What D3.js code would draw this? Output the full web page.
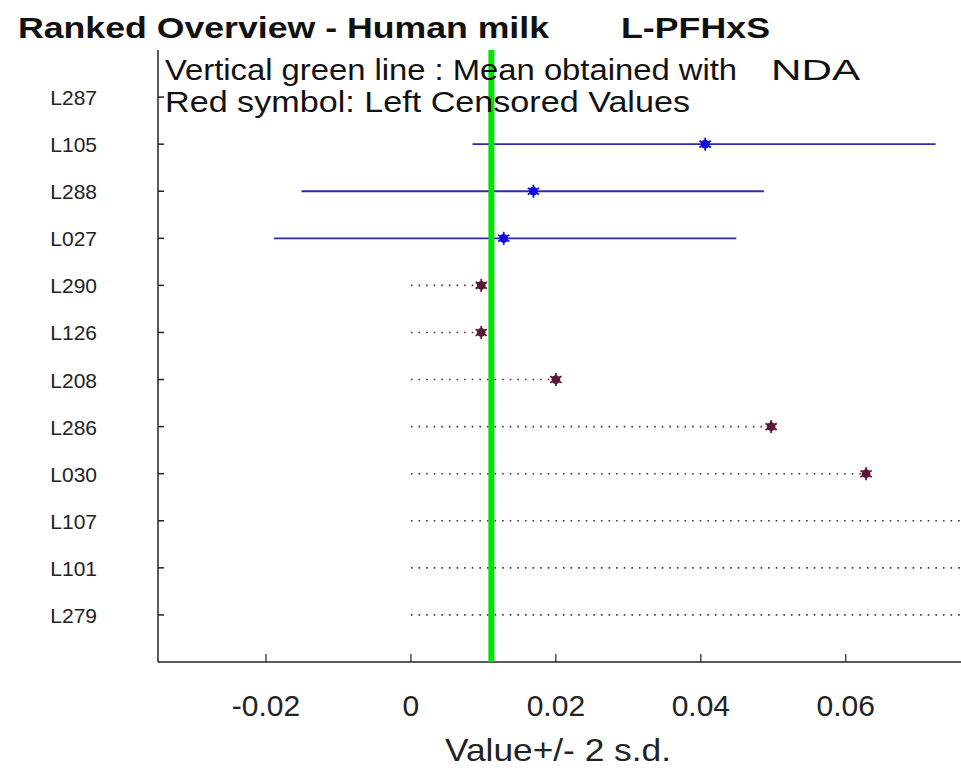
<!DOCTYPE html>
<html><head><meta charset="utf-8">
<script src="https://cdn.jsdelivr.net/npm/d3@7"></script>
<style>body{margin:0;background:#fff}svg{display:block}text{font-family:"Liberation Sans",Arial,sans-serif}</style>
</head><body>
<svg id="c" width="961" height="771"></svg>
<script>
const labs = ["L287","L105","L288","L027","L290","L126","L208","L286","L030","L107","L101","L279"];
// measured values (null = none shown)
const values = [null,0.0406,0.0169,0.0128,0.0097,0.0097,0.0200,0.0497,0.0628,0.090,0.100,0.120];
const lows   = [null,0.0085,-0.0151,-0.0189,null,null,null,null,null,null,null,null];
const highs  = [null,0.0724,0.0487,0.0449,null,null,null,null,null,null,null,null];
const censored = [false,false,false,false,true,true,true,true,true,true,true,true];
const meanNDA = 0.0111;
const xTicks = [-0.02,0,0.02,0.04,0.06];
const xTickLabels = ["-0.02","0","0.02","0.04","0.06"];

const svg = d3.select("#c");
const L=158, R=961, T=50, B=662;
const x = d3.scaleLinear().domain([-0.0349,0.0759]).range([L,R]);
const y = d3.scaleLinear().domain([0,13]).range([T,B]);

svg.append("defs").append("clipPath").attr("id","clp").append("rect")
  .attr("x",L).attr("y",T-10).attr("width",R-L).attr("height",B-T+10);
const g = svg.append("g").attr("clip-path","url(#clp)");

// axes
svg.append("line").attr("x1",L).attr("x2",L).attr("y1",T).attr("y2",B).attr("stroke","#222").attr("stroke-width",1.5);
svg.append("line").attr("x1",L).attr("x2",R).attr("y1",B).attr("y2",B).attr("stroke","#222").attr("stroke-width",1.5);
xTicks.forEach((t,i)=>{
  svg.append("line").attr("x1",x(t)).attr("x2",x(t)).attr("y1",B).attr("y2",B-8).attr("stroke","#222").attr("stroke-width",1.2);
  svg.append("text").attr("x",x(t)).attr("y",716).attr("text-anchor","middle").attr("font-size",30).attr("fill","#222").text(xTickLabels[i]);
});
labs.forEach((l,i)=>{
  const yy=y(i+1);
  svg.append("line").attr("x1",L).attr("x2",L+6).attr("y1",yy).attr("y2",yy).attr("stroke","#222").attr("stroke-width",1.5);
  svg.append("text").attr("x",97).attr("y",yy+8).attr("text-anchor","end").attr("font-size",21).attr("fill","#222").text(l);
});

// data marks
labs.forEach((l,i)=>{
  const yy=y(i+1);
  if(values[i]===null) return;
  if(!censored[i]){
    g.append("line").attr("x1",x(lows[i])).attr("x2",x(highs[i])).attr("y1",yy).attr("y2",yy).attr("stroke","#2a2ab0").attr("stroke-width",1.8);
  } else {
    g.append("line").attr("x1",x(0)).attr("x2",x(values[i])).attr("y1",yy).attr("y2",yy).attr("stroke","#5a2a3a").attr("stroke-width",1.6).attr("stroke-dasharray","1.6,6");
  }
});

// green mean line
svg.append("line").attr("x1",x(meanNDA)).attr("x2",x(meanNDA)).attr("y1",T).attr("y2",B).attr("stroke","#00e600").attr("stroke-width",6);

labs.forEach((l,i)=>{
  if(values[i]===null) return;
  const yy=y(i+1), col = censored[i] ? "#5c1838" : "#1010e0";
  const m = g.append("g").attr("transform",`translate(${x(values[i])},${yy})`);
  m.append("path").attr("d",d3.symbol(d3.symbolCircle,60)()).attr("fill",col);
  [0,60,120].forEach(a=>m.append("line").attr("x1",0).attr("y1",-6.5).attr("x2",0).attr("y2",6.5).attr("transform",`rotate(${a})`).attr("stroke",col).attr("stroke-width",1.8));
});

// titles
svg.append("text").attr("x",18).attr("y",38).attr("font-size",30).attr("font-weight","bold").attr("fill","#111")
  .attr("textLength",531).attr("lengthAdjust","spacingAndGlyphs").text("Ranked Overview - Human milk");
svg.append("text").attr("x",621).attr("y",38).attr("font-size",30).attr("font-weight","bold").attr("fill","#111")
  .attr("textLength",149).attr("lengthAdjust","spacingAndGlyphs").text("L-PFHxS");
svg.append("text").attr("x",165).attr("y",80).attr("font-size",30).attr("fill","#111")
  .attr("textLength",572).attr("lengthAdjust","spacingAndGlyphs").text("Vertical green line : Mean obtained with");
svg.append("text").attr("x",771).attr("y",80).attr("font-size",30).attr("fill","#111")
  .attr("textLength",89).attr("lengthAdjust","spacingAndGlyphs").text("NDA");
svg.append("text").attr("x",165).attr("y",112).attr("font-size",30).attr("fill","#111")
  .attr("textLength",525).attr("lengthAdjust","spacingAndGlyphs").text("Red symbol: Left Censored Values");
svg.append("text").attr("x",558).attr("y",761).attr("text-anchor","middle").attr("font-size",32).attr("fill","#222")
  .attr("textLength",226).attr("lengthAdjust","spacingAndGlyphs").text("Value+/- 2 s.d.");
</script>
</body></html>
